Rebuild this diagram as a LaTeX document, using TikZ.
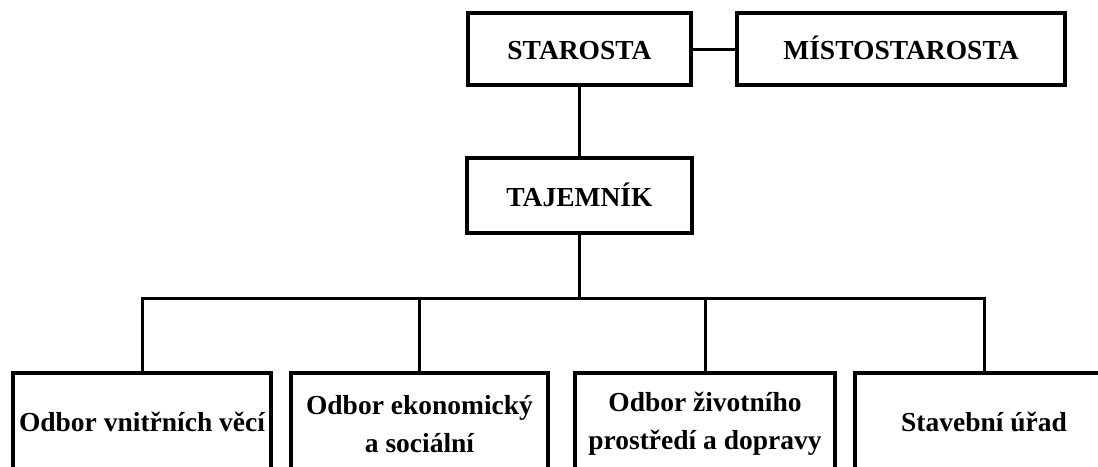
\documentclass[tikz,border=0pt]{standalone}
\usepackage{fontspec}
\setmainfont{Liberation Serif}
\begin{document}
\begin{tikzpicture}[x=1pt,y=-1pt,
  box/.style={draw=black, line width=3.4pt, fill=white, inner sep=0pt, align=center,
    font=\bfseries\fontsize{27.5}{38}\selectfont},
  topbox/.style={box, text height=21pt, text depth=0pt},
  link/.style={draw=black, line width=3pt}]
\useasboundingbox (0,0) rectangle (1098,466);
\clip (0,0) rectangle (1098,466);
\node[topbox, minimum width=223pt, minimum height=72pt] (starosta) at (579.5,49) {STAROSTA};
\node[topbox, minimum width=328pt, minimum height=72pt] (misto) at (901,49) {MÍSTOSTAROSTA};
\node[topbox, minimum width=225pt, minimum height=75pt] (tajemnik) at (579.5,195.5) {TAJEMNÍK};
\node[box, minimum width=258pt, minimum height=98pt] (b1) at (142,422) {Odbor vnitřních věcí};
\node[box, minimum width=257pt, minimum height=102pt] (b2) at (419.5,424) {Odbor ekonomický\\a sociální};
\node[box, minimum width=260pt, minimum height=102pt] (b3) at (705,424) {Odbor životního\\prostředí a dopravy};
\node[box, minimum width=258pt, minimum height=98pt] (b4) at (984,422) {Stavební úřad};
\coordinate (bus) at (0,298);
\draw[link] (starosta.east) -- (misto.west);
\draw[link] (starosta.south) -- (tajemnik.north);
\draw[link] (tajemnik.south) -- (tajemnik.south |- bus);
\draw[link] (b1.north) -- (b1.north |- bus) -- (b4.north |- bus) -- (b4.north);
\draw[link] (b2.north) -- (b2.north |- bus);
\draw[link] (b3.north) -- (b3.north |- bus);
\end{tikzpicture}
\end{document}
